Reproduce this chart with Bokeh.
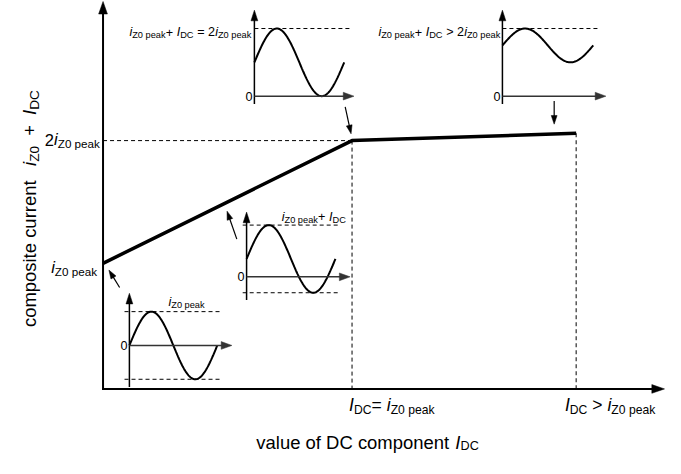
import math
import numpy as np
from bokeh.plotting import figure
from bokeh.models import Range1d
from bokeh.core.properties import value
from bokeh.embed import file_html
from bokeh.resources import INLINE

# ---------------- data (in units of i_Z0peak) ----------------
dc_component = [0.0, 1.0, 1.9]          # I_DC / i_Z0peak
composite = [1.0, 2.0, 2.06]            # (i_Z0peak + I_DC) / i_Z0peak
inset_amplitude = [1.0, 1.0, 1.0, 0.5]  # sine amplitude in each inset
inset_dc_offset = [0.0, 0.53, 1.0, 1.5] # DC offset in each inset

FONT = "Liberation Sans"

# ---------------- layout constants (reference pixels) ----------------
W, H = 665, 458           # canvas size
RW, RH = 681, 474         # drawing space
K = 0.972                 # font/size scaling canvas/drawing
PX0, PY0, SX, SY = 105, 399, 255.0, 127.0     # main chart mapping
AXIS_Y = 402
inset_origin = [(132, 357), (252, 286), (260, 99), (514, 99)]
inset_period_px = [90, 91, 92, 93]
SA = 35.0

p = figure(width=W, height=H, output_backend="svg", toolbar_location=None,
           x_range=Range1d(0, RW), y_range=Range1d(RH, 0),
           x_axis_location=None, y_axis_location=None, min_border=0)
p.outline_line_color = None
p.xgrid.visible = False
p.ygrid.visible = False
p.background_fill_color = "white"
p.border_fill_color = "white"

# main data ranges
p.extra_x_ranges["mx"] = Range1d((0 - PX0) / SX, (RW - PX0) / SX)
p.extra_y_ranges["my"] = Range1d((PY0 - RH) / SY, (PY0 - 0) / SY)
for k, ((x0, y0), per) in enumerate(zip(inset_origin, inset_period_px)):
    st = per / (2 * math.pi)
    p.extra_x_ranges[f"ix{k}"] = Range1d((0 - x0) / st, (RW - x0) / st)
    p.extra_y_ranges[f"iy{k}"] = Range1d((y0 - RH) / SA, (y0 - 0) / SA)

DASH = "4 3"

def head(tx, ty, dx, dy, L, hw, color="black"):
    n = math.hypot(dx, dy)
    ux, uy = dx / n, dy / n
    bx, by = tx - ux * L, ty - uy * L
    qx, qy = -uy, ux
    p.patch([tx, bx + qx * hw, bx - qx * hw], [ty, by + qy * hw, by - qy * hw],
            fill_color=color, line_color=color, line_width=0.5)

def arrow(x1, y1, x2, y2, L, hw, lw, color="black"):
    n = math.hypot(x2 - x1, y2 - y1)
    ux, uy = (x2 - x1) / n, (y2 - y1) / n
    p.line([x1, x2 - ux * (L - 1)], [y1, y2 - uy * (L - 1)], line_color=color, line_width=lw)
    head(x2, y2, x2 - x1, y2 - y1, L, hw, color)

WID = {' ': 278, '+': 584, '=': 584, '>': 584, '0': 556, '2': 556, 'a': 556, 'c': 500,
       'e': 556, 'i': 222, 'k': 500, 'p': 556, 'C': 722, 'D': 722, 'I': 278, 'Z': 611,
       'v': 500, 'l': 222, 'u': 556, 'o': 556, 'f': 278, 'm': 833, 'n': 556, 't': 278,
       's': 500, 'r': 333}

def tw(s, size):
    return sum(WID.get(c, 556) for c in s) * size / 1000.0

def label(x, y, segs, F=13, f=9.5, drop=3, align="left", vertical=False):
    sizes = [f if k == "s" else F for _, k in segs]
    widths = [tw(t, s) for (t, _), s in zip(segs, sizes)]
    total = sum(widths)
    if align == "right":
        start = -total
    elif align == "center":
        start = -total / 2
    else:
        start = 0
    cur = start
    for (t, k), s, w in zip(segs, sizes, widths):
        d = drop if k == "s" else 0
        lead = len(t) - len(t.lstrip(" "))
        off = cur + tw(" " * lead, s)
        txt = t.strip(" ")
        if txt:
            if vertical:
                xx, yy, ang = x + d, y - off, math.pi / 2
            else:
                xx, yy, ang = x + off, y + d, 0
            p.text(x=[xx], y=[yy], text=[txt], angle=ang, text_font=value(FONT),
                   text_font_size=f"{s * K:.2f}px",
                   text_font_style="italic" if k == "i" else "normal",
                   text_align="left", text_baseline="alphabetic", text_color="black")
        cur += w

# ---------------- main chart ----------------
axis_level = (PY0 - AXIS_Y) / SY
p.line([dc_component[0], dc_component[1]], [composite[1], composite[1]],
       x_range_name="mx", y_range_name="my", line_color="black", line_width=1, line_dash=DASH)
p.line([dc_component[1], dc_component[1]], [composite[1], axis_level],
       x_range_name="mx", y_range_name="my", line_color="black", line_width=1, line_dash=DASH)
p.line([dc_component[2], dc_component[2]], [composite[2], axis_level],
       x_range_name="mx", y_range_name="my", line_color="black", line_width=1, line_dash=DASH)
p.line(dc_component, composite, x_range_name="mx", y_range_name="my",
       line_color="black", line_width=3.5)

# main axes
arrow(PX0, AXIS_Y + 1, PX0, 1, 13, 4.5, 2)
arrow(PX0 - 1, AXIS_Y, 680, AXIS_Y, 13, 4.5, 2)

# ---------------- insets ----------------
dash_px = [(127, 225, True), (248, 347, True), (260, 358, False), (514, 612, False)]
vaxis = [(400, 303), (310, 219), (107, 10), (107, 10)]
haxis_tip = [237, 358, 362, 620]
for k in range(4):
    x0, y0 = inset_origin[k]
    st = inset_period_px[k] / (2 * math.pi)
    amp, dc = inset_amplitude[k], inset_dc_offset[k]
    t = np.linspace(0, 2 * math.pi, 120)
    p.line(t, dc + amp * np.sin(t), x_range_name=f"ix{k}", y_range_name=f"iy{k}",
           line_color="black", line_width=2)
    xl, xr, both = dash_px[k]
    tx = [(xl - x0) / st, (xr - x0) / st]
    p.line(tx, [dc + amp] * 2, x_range_name=f"ix{k}", y_range_name=f"iy{k}",
           line_color="black", line_width=1, line_dash=DASH)
    if both:
        p.line(tx, [dc - amp] * 2, x_range_name=f"ix{k}", y_range_name=f"iy{k}",
               line_color="black", line_width=1, line_dash=DASH)
    vb, vt = vaxis[k]
    arrow(x0, vb, x0, vt, 11, 3.5, 1.5)
    arrow(x0, y0, haxis_tip[k], y0, 11, 4, 1.5, color="#333333")
    p.text(x=[x0 - 2], y=[y0], text=["0"], text_font=value(FONT),
           text_font_size=f"{13 * K:.2f}px",
           text_align="right", text_baseline="middle", text_color="black")

# pointer arrows
arrow(122, 297, 111, 279, 9, 3, 1.2)
arrow(242, 247, 232, 218, 9, 3, 1.2)
arrow(353, 110, 359, 138, 9, 3, 1.2)
arrow(567, 104, 567, 128, 9, 3, 1.2)

# ---------------- texts ----------------
IZ = [("i", "i"), ("Z0 peak", "s")]
label(102, 144, [("2", "n"), ("i", "i"), ("Z0 peak", "s")], F=17, f=12, drop=4, align="right")
label(99, 276, IZ, F=17, f=12, drop=4, align="right")
label(357, 419, [("I", "i"), ("DC", "s"), ("= ", "n")] + IZ, F=18, f=12.5, drop=5)
label(578, 419, [("I", "i"), ("DC", "s"), (" > ", "n")] + IZ, F=18, f=12.5, drop=5)
label(262, 457, [("value of DC component ", "n"), ("I", "i"), ("DC", "s")], F=19, f=13, drop=4)
label(30, 338, [("composite current   ", "n"), ("i", "i"), ("Z0", "s"), ("  +  ", "n"),
                ("I", "i"), ("DC", "s")], F=19, f=14, drop=5, vertical=True)

label(132, 33, IZ + [("+ ", "n"), ("I", "i"), ("DC", "s"), (" = 2", "n")] + IZ)
label(387, 33, IZ + [("+ ", "n"), ("I", "i"), ("DC", "s"), (" > 2", "n")] + IZ)
label(288, 224, IZ + [("+ ", "n"), ("I", "i"), ("DC", "s")])
label(172, 312, IZ)

open("out.html", "w").write(file_html(p, INLINE))
